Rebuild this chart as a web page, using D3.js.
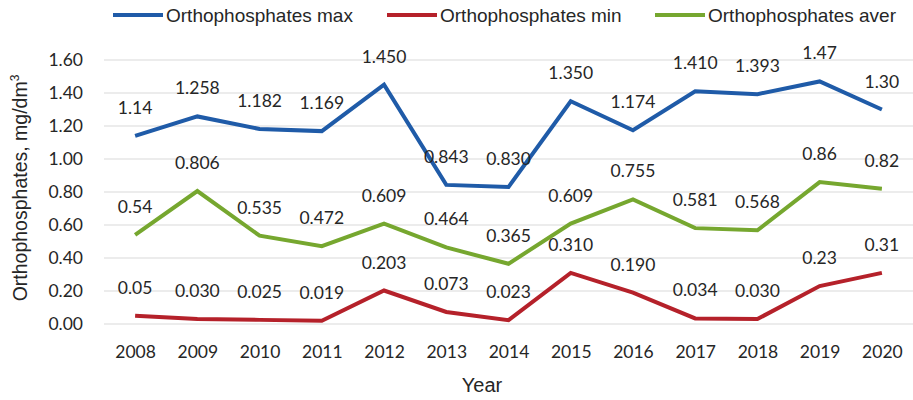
<!DOCTYPE html>
<html>
<head>
<meta charset="utf-8">
<script src="https://cdn.jsdelivr.net/npm/d3@7"></script>
<style>
  body { margin: 0; background: #fff; }
  svg text { fill: #262626; }
</style>
</head>
<body>
<svg id="chart" width="913" height="400"></svg>
<script>
// data
var years = ["2008","2009","2010","2011","2012","2013","2014","2015","2016","2017","2018","2019","2020"];
var maxLabels = ["1.14","1.258","1.182","1.169","1.450","0.843","0.830","1.350","1.174","1.410","1.393","1.47","1.30"];
var minLabels = ["0.05","0.030","0.025","0.019","0.203","0.073","0.023","0.310","0.190","0.034","0.030","0.23","0.31"];
var averLabels = ["0.54","0.806","0.535","0.472","0.609","0.464","0.365","0.609","0.755","0.581","0.568","0.86","0.82"];
var yTicks = [0, 0.2, 0.4, 0.6, 0.8, 1.0, 1.2, 1.4, 1.6];
var seriesNames = ["Orthophosphates max", "Orthophosphates min", "Orthophosphates aver"];
var seriesColors = ["#1f5ba8", "#b5212a", "#76a72f"];

var series = [maxLabels, minLabels, averLabels].map(function(labs, i) {
  return { name: seriesNames[i], color: seriesColors[i], labels: labs, values: labs.map(Number) };
});

var numFont = "Lato, 'Open Sans', sans-serif";
var txtFont = "'Liberation Sans', Arial, sans-serif";

var svg = d3.select("#chart");
var x = d3.scalePoint().domain(years).range([104, 913]).padding(0.5);
var y = d3.scaleLinear().domain([0, 1.6]).range([324, 60]);

// gridlines
svg.append("g").selectAll("line").data(yTicks).enter().append("line")
  .attr("x1", 104).attr("x2", 913)
  .attr("y1", function(d) { return y(d); }).attr("y2", function(d) { return y(d); })
  .attr("stroke", "#d9d9d9").attr("stroke-width", 1);

// y axis
var yAxis = svg.append("g").attr("transform", "translate(86,0)")
  .call(d3.axisLeft(y).tickValues(yTicks).tickFormat(d3.format(".2f")).tickSize(0).tickPadding(3));
yAxis.select(".domain").remove();
yAxis.selectAll("text").style("font-family", numFont).style("font-size", "17.5px").attr("fill", "#262626");

// x axis
var xAxis = svg.append("g").attr("transform", "translate(0,346)")
  .call(d3.axisBottom(x).tickSize(0).tickPadding(0));
xAxis.select(".domain").remove();
xAxis.selectAll("text").style("font-family", numFont).style("font-size", "17.5px").attr("fill", "#262626");

// axis titles
svg.append("text").attr("x", 482).attr("y", 392).attr("text-anchor", "middle")
  .style("font-family", txtFont).style("font-size", "20px").text("Year");

var yt = svg.append("text").attr("transform", "translate(27,188) rotate(-90)").attr("text-anchor", "middle")
  .style("font-family", txtFont).style("font-size", "19.5px");
yt.append("tspan").text("Orthophosphates, mg/dm");
yt.append("tspan").attr("dy", -8).style("font-size", "12px").text("3");

// lines
var line = d3.line().x(function(d, i) { return x(years[i]); }).y(function(d) { return y(d); });
series.forEach(function(s) {
  svg.append("path").datum(s.values)
    .attr("d", line).attr("fill", "none")
    .attr("stroke", s.color).attr("stroke-width", 4).attr("stroke-linejoin", "miter");
});

// data labels
series.forEach(function(s) {
  svg.append("g").selectAll("text").data(s.values).enter().append("text")
    .attr("x", function(d, i) { return x(years[i]); })
    .attr("y", function(d) { return y(d) - 22; })
    .attr("text-anchor", "middle")
    .style("font-family", numFont).style("font-size", "17.5px")
    .text(function(d, i) { return s.labels[i]; });
});

// legend
var legendX = [113, 387, 655];
var leg = svg.append("g").selectAll("g").data(series).enter().append("g")
  .attr("transform", function(d, i) { return "translate(" + legendX[i] + ",15)"; });
leg.append("line").attr("x1", 0).attr("x2", 50).attr("y1", 0).attr("y2", 0)
  .attr("stroke", function(d) { return d.color; }).attr("stroke-width", 4);
leg.append("text").attr("x", 53).attr("y", 7)
  .style("font-family", txtFont).style("font-size", "19px")
  .text(function(d) { return d.name; });
</script>
</body>
</html>
